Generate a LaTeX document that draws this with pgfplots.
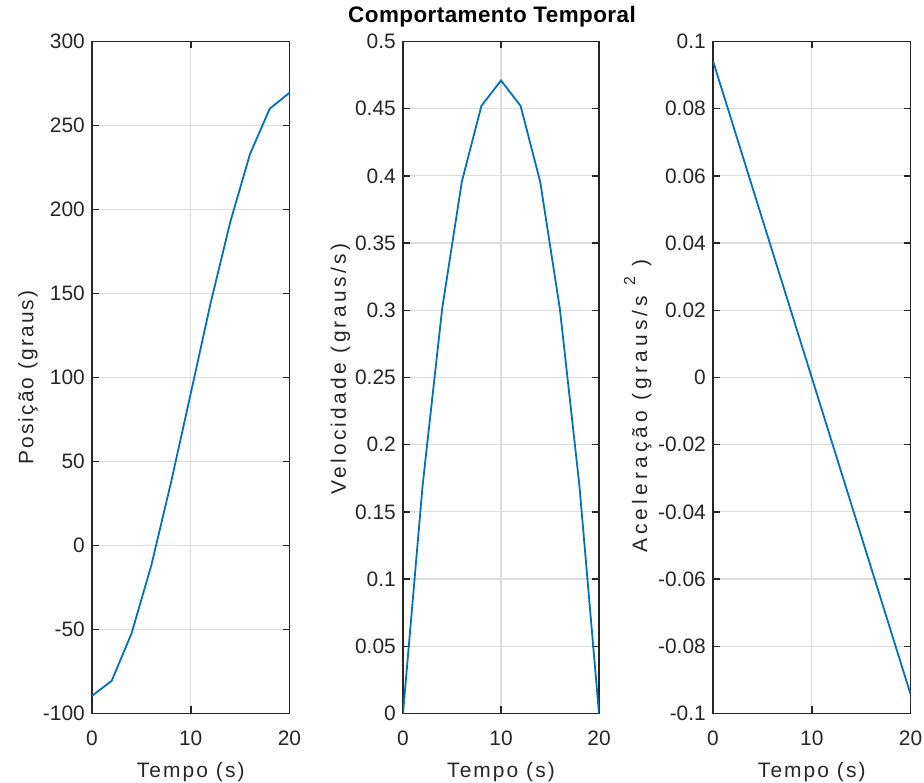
\documentclass[border=0pt]{standalone}
\usepackage{pgfplots}
\pgfplotsset{compat=1.18}
\usepackage{fontspec}
\setmainfont{Liberation Sans}
\definecolor{mblue}{rgb}{0,0.447,0.741}
\definecolor{axc}{HTML}{262626}
\definecolor{gridc}{HTML}{DCDCDC}
\pgfplotsset{mstyle/.style={
  scale only axis, height=672bp,
  xmin=0, xmax=20, xtick={0,10,20},
  grid=major, major grid style={gridc, line width=1.2bp},
  axis line style={axc, line width=1.5bp},
  tick style={axc, line width=1.5bp},
  tick align=inside, major tick length=7bp,
  xtick pos=both, ytick pos=both,
  /pgf/number format/assume math mode=true,
  every tick label/.append style={font=\fontsize{21}{21}\selectfont, text=axc},
  xticklabel style={anchor=base, yshift=-31.5bp, inner sep=0pt},
  yticklabel style={anchor=east, xshift=-7bp, inner sep=0pt},
  label style={font=\fontsize{21}{21}\selectfont\addfontfeature{LetterSpace=10}, text=axc},
  xlabel={Tempo (s)},
  xlabel style={at={(axis description cs:0.5,0)}, anchor=base, yshift=-63.5bp},
  anchor=south west,
}}
\begin{document}
\begin{tikzpicture}
\useasboundingbox (0,0) rectangle (924bp,783bp);
\begin{axis}[mstyle, at={(92bp,69.5bp)}, width=197.5bp,
  ymin=-100, ymax=300, ytick={-100,-50,0,50,100,150,200,250,300},
  ylabel={Posição (graus)},
  ylabel style={at={(axis description cs:-0.297,0.5)}, anchor=base}]
\addplot[mblue, line width=1.8bp] coordinates {
(0,-89.5) (2,-80.5) (4,-52.4) (6,-12) (8,37.5) (10,90.5) (12,144) (14,192.5) (16,233) (18,260) (20,269.5)};
\end{axis}
\begin{axis}[mstyle, at={(403bp,69.5bp)}, width=196bp,
  ymin=0, ymax=0.5, ytick={0,0.05,0.1,0.15,0.2,0.25,0.3,0.35,0.4,0.45,0.5},
  yticklabel style={/pgf/number format/.cd, fixed, precision=2},
  ylabel={Velocidade (graus/s)},
  ylabel style={at={(axis description cs:-0.291,0.512)}, anchor=base, font=\fontsize{21}{21}\selectfont\addfontfeature{LetterSpace=16}},
  title={Comportamento Temporal},
  title style={at={(axis description cs:0.5,1)}, anchor=base, yshift=12.7bp, xshift=-9bp, font=\bfseries\fontsize{22.5}{22.5}\selectfont\addfontfeature{LetterSpace=2}, text=black}]
\addplot[mblue, line width=1.8bp] coordinates {
(0,0) (2,0.1696) (4,0.3014) (6,0.3956) (8,0.4521) (10,0.4710) (12,0.4521) (14,0.3956) (16,0.3014) (18,0.1696) (20,0)};
\end{axis}
\begin{axis}[mstyle, at={(713bp,69.5bp)}, width=197.5bp,
  ymin=-0.1, ymax=0.1, ytick={-0.1,-0.08,-0.06,-0.04,-0.02,0,0.02,0.04,0.06,0.08,0.1},
  yticklabel style={/pgf/number format/.cd, fixed, precision=2},
  ylabel={Aceleração (graus/s\ \raisebox{0.57em}{\fontsize{16}{16}\selectfont 2}\ )},
  ylabel style={at={(axis description cs:-0.334,0.457)}, anchor=base, font=\fontsize{21}{21}\selectfont\addfontfeature{LetterSpace=20}}]
\addplot[mblue, line width=1.8bp] coordinates {
(0,0.0942) (2,0.07536) (4,0.05652) (6,0.03768) (8,0.01884) (10,0) (12,-0.01884) (14,-0.03768) (16,-0.05652) (18,-0.07536) (20,-0.0942)};
\end{axis}
\end{tikzpicture}
\end{document}
